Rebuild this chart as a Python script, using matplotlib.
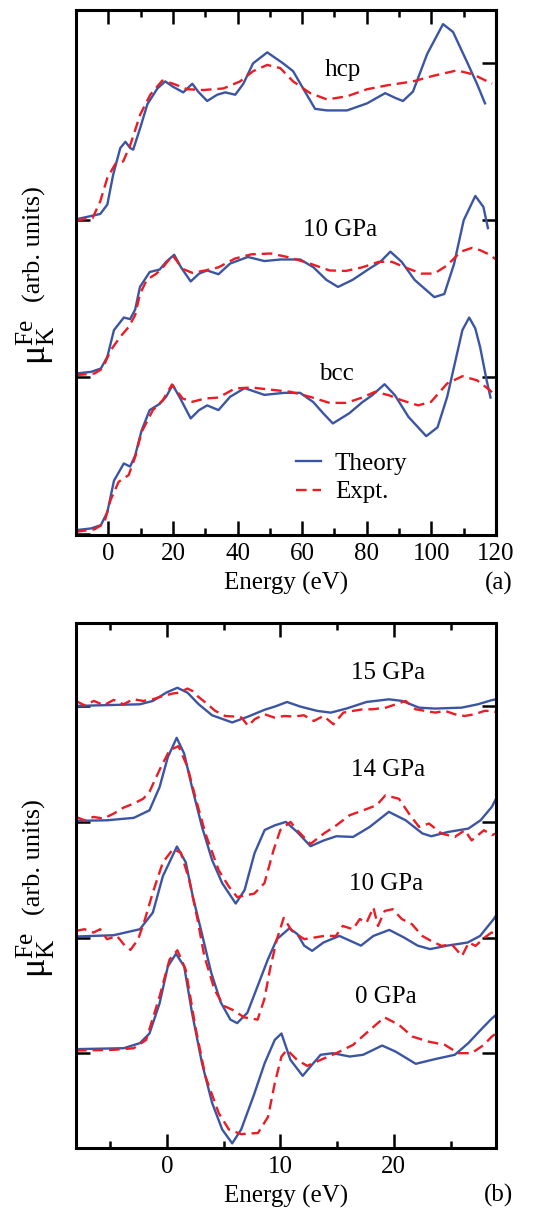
import numpy as np
import matplotlib
matplotlib.use('Agg')
import matplotlib.pyplot as plt
from matplotlib.ticker import MultipleLocator

plt.rcParams['font.family'] = ['Liberation Serif', 'DejaVu Serif']
plt.rcParams['mathtext.fontset'] = 'custom'
plt.rcParams['mathtext.rm'] = 'Liberation Serif'
plt.rcParams['mathtext.it'] = 'Liberation Serif:italic'
plt.rcParams['font.size'] = 18

# ---------------- panel (a): wide energy range ----------------
# hcp (offset 2)
e_hcp_th = [-10, -2.5, -0.3, 1.5, 3.7, 5.3, 6.8, 7.7, 9.9, 12.1, 15.2, 17.6, 20.1, 23.2, 26.0, 27.8,
            30.6, 33.7, 36.2, 39.3, 41.8, 44.8, 49.2, 54.1, 57.2, 60.3, 64.0, 67.7, 73.9, 80.1, 85.7,
            88.8, 91.2, 94.3, 98.7, 103.6, 106.7, 111.0, 114.1, 116.6]
mu_hcp_th = [0.006, 0.04, 0.10, 0.29, 0.46, 0.50, 0.46, 0.45, 0.59, 0.74, 0.84, 0.885, 0.85, 0.815, 0.87, 0.82,
             0.76, 0.80, 0.815, 0.80, 0.87, 1.0, 1.07, 1.0, 0.95, 0.84, 0.71, 0.70, 0.70, 0.745, 0.81,
             0.78, 0.76, 0.82, 1.06, 1.25, 1.20, 1.01, 0.87, 0.745]
e_hcp_ex = [-10, -4.9, -2.5, -0.3, 2.2, 4.6, 6.8, 9.9, 13.0, 16.7, 20.1, 24.4, 29.4, 35.6, 40.8, 44.8,
            49.2, 53.2, 57.2, 62.5, 67.7, 73.9, 80.1, 86.3, 94.3, 100.5, 107.9, 112.9, 118.8]
mu_hcp_ex = [0.0, 0.013, 0.12, 0.27, 0.36, 0.375, 0.48, 0.675, 0.80, 0.89, 0.87, 0.835, 0.83, 0.84, 0.885, 0.95,
             0.99, 0.97, 0.885, 0.81, 0.77, 0.79, 0.835, 0.86, 0.885, 0.92, 0.955, 0.93, 0.87]

# 10 GPa (offset 1)
e_10a_th = [-10, -5.3, -2.3, -0.3, 1.75, 4.8, 6.75, 8.3, 9.8, 12.8, 15.9, 17.9, 20.4, 22.5, 25.5, 28.1,
            30.6, 34.1, 37.7, 43.2, 48.3, 53.4, 59.4, 63.5, 67.5, 71.1, 75.6, 80.7, 84.2, 87.3, 90.8,
            94.8, 100.9, 104.0, 107.0, 110.0, 113.6, 116.1, 117.5]
mu_10a_th = [0.023, 0.034, 0.055, 0.13, 0.30, 0.38, 0.37, 0.43, 0.575, 0.67, 0.686, 0.735, 0.78, 0.70, 0.61, 0.66,
             0.68, 0.656, 0.724, 0.766, 0.74, 0.75, 0.75, 0.70, 0.62, 0.575, 0.62, 0.69, 0.735, 0.80, 0.735,
             0.62, 0.51, 0.53, 0.72, 1.0, 1.155, 1.085, 0.95]
e_10a_ex = [-10, -4.3, -1.8, 0.7, 3.7, 6.3, 8.3, 9.8, 11.9, 14.9, 16.9, 19.9, 23.0, 26.0, 30.0, 34.1,
            39.2, 44.3, 50.3, 56.3, 62.4, 68.5, 73.6, 78.6, 83.7, 87.8, 91.8, 96.9, 100.9, 104.9, 109.1,
            112.6, 115.0, 118.1, 120.0]
mu_10a_ex = [0.013, 0.023, 0.055, 0.17, 0.257, 0.32, 0.395, 0.53, 0.62, 0.66, 0.70, 0.777, 0.69, 0.665, 0.68, 0.70,
             0.756, 0.783, 0.788, 0.762, 0.724, 0.68, 0.677, 0.70, 0.735, 0.735, 0.70, 0.66, 0.66, 0.713, 0.80,
             0.824, 0.81, 0.78, 0.75]

# bcc (offset 0)
e_bcc_th = [-10, -5.3, -2.3, -0.3, 1.75, 4.8, 6.75, 8.3, 10.3, 12.8, 15.9, 17.9, 19.9, 22.0, 25.5, 28.1,
            30.6, 34.1, 37.7, 42.2, 48.3, 54.4, 59.4, 63.5, 66.5, 69.5, 74.6, 78.6, 81.7, 85.5, 88.7,
            92.9, 98.4, 101.9, 104.9, 107.5, 109.6, 111.7, 113.6, 115.1, 117.1, 118.3]
mu_bcc_th = [0.025, 0.036, 0.057, 0.14, 0.34, 0.45, 0.43, 0.50, 0.66, 0.79, 0.83, 0.875, 0.95, 0.875, 0.737, 0.79,
             0.82, 0.79, 0.875, 0.93, 0.887, 0.90, 0.90, 0.84, 0.77, 0.705, 0.77, 0.84, 0.885, 0.955, 0.885,
             0.747, 0.624, 0.68, 0.875, 1.11, 1.30, 1.38, 1.31, 1.19, 0.98, 0.87]
e_bcc_ex = [-10, -4.3, -1.3, 0.7, 3.2, 6.3, 8.3, 10.3, 13.8, 16.9, 19.7, 23.0, 26.0, 30.0, 34.1, 39.2,
            44.3, 50.3, 56.3, 62.4, 68.5, 73.6, 78.6, 82.6, 86.8, 90.8, 95.9, 99.9, 104.9, 109.6, 114.1,
            118.1, 120.0]
mu_bcc_ex = [0.015, 0.03, 0.068, 0.217, 0.333, 0.376, 0.49, 0.65, 0.79, 0.854, 0.953, 0.864, 0.843, 0.864, 0.87, 0.928,
             0.934, 0.92, 0.907, 0.875, 0.836, 0.836, 0.87, 0.907, 0.885, 0.853, 0.82, 0.843, 0.96, 1.006, 0.98,
             0.917, 0.88]

# ---------------- panel (b): near-edge region ----------------
e_15_th = [-8.0, -2.37, -1.23, -0.05, 0.93, 1.82, 2.81, 3.99, 5.76, 7.14, 8.62, 9.51, 10.59, 11.77, 13.25,
           14.44, 15.82, 17.59, 19.56, 20.74, 22.22, 23.6, 25.97, 27.4, 28.6, 29.0]
mu_15_th = [0.003, 0.017, 0.046, 0.118, 0.16, 0.118, 0.017, -0.078, -0.14, -0.09, -0.03, -0.003, 0.037, -0.003, -0.04,
            -0.055, -0.02, 0.037, 0.06, 0.046, -0.012, -0.02, -0.012, 0.017, 0.052, 0.06]
e_15_ex = [-8.0, -7.28, -6.42, -5.55, -4.68, -3.82, -2.95, -2.08, -1.21, -0.35, 0.52, 1.10, 1.82, 2.25, 2.69,
           3.41, 4.27, 5.14, 6.01, 6.59, 7.16, 7.74, 8.61, 9.48, 10.35, 11.21, 12.08, 12.95, 13.81, 14.68,
           15.55, 16.42, 17.28, 18.15, 19.3, 20.17, 21.04, 21.91, 22.77, 23.64, 24.51, 25.37, 26.24, 27.11,
           27.98, 28.53, 29.0]
mu_15_ex = [0.046, 0.009, 0.046, 0.009, 0.055, 0.017, 0.061, 0.046, 0.061, 0.089, 0.110, 0.118, 0.153, 0.133, 0.089,
            0.032, -0.040, -0.084, -0.089, -0.098, -0.170, -0.112, -0.069, -0.098, -0.084, -0.089, -0.078, -0.127,
            -0.084, -0.156, -0.055, -0.040, -0.026, -0.026, -0.012, 0.017, 0.046, -0.026, -0.040, -0.055, -0.040,
            -0.069, -0.084, -0.069, -0.040, -0.040, -0.05]

e_14_th = [-8.0, -5.27, -2.91, -1.53, -0.64, 0.09, 0.87, 1.53, 2.22, 3.1, 3.99, 4.88, 6.07, 6.85, 7.73,
           8.62, 9.51, 10.49, 11.48, 12.66, 13.84, 14.93, 16.41, 17.88, 19.56, 21.04, 22.52, 23.3, 24.78,
           26.56, 27.64, 28.63, 29.0]
mu_14_th = [0.009, 0.014, 0.035, 0.10, 0.30, 0.56, 0.727, 0.59, 0.30, -0.043, -0.33, -0.53, -0.706, -0.59, -0.27,
            -0.07, -0.03, 0.0, -0.087, -0.21, -0.16, -0.124, -0.13, -0.043, 0.087, 0.014, -0.10, -0.124, -0.087,
            -0.058, 0.014, 0.13, 0.2]
e_14_ex = [-8.0, -7.25, -6.46, -5.57, -4.68, -3.8, -2.91, -2.08, -1.53, -0.64, 0.24, 1.03, 1.82, 2.51, 3.4,
           4.58, 5.47, 6.2, 7.7, 8.6, 9.4, 10.0, 10.9, 11.48, 12.66, 13.84, 14.93, 16.11, 17.29, 18.48,
           19.26, 20.45, 21.33, 22.22, 23.1, 24.19, 25.37, 26.26, 26.85, 27.94, 28.63, 29.0]
mu_14_ex = [0.043, 0.014, 0.043, 0.029, 0.072, 0.124, 0.159, 0.20, 0.26, 0.45, 0.62, 0.655, 0.476, 0.216, -0.10,
            -0.42, -0.56, -0.65, -0.62, -0.53, -0.245, -0.07, 0.0, -0.072, -0.19, -0.10, -0.03, 0.058, 0.10, 0.144,
            0.23, 0.20, 0.072, -0.043, -0.014, -0.10, -0.13, -0.072, -0.16, -0.072, -0.115, -0.10]

e_10b_th = [-8.0, -4.68, -2.37, -1.23, -0.35, 0.89, 1.67, 2.3, 3.0, 3.9, 4.75, 5.6, 6.2, 7.1, 8.0, 8.9,
            9.7, 10.8, 11.5, 12.1, 12.8, 13.8, 15.2, 16.2, 17.1, 18.2, 19.6, 20.9, 22.1, 23.2, 24.7, 26.5,
            27.6, 28.8, 29.0]
mu_10b_th = [0.009, 0.02, 0.072, 0.216, 0.53, 0.787, 0.65, 0.35, 0.07, -0.30, -0.56, -0.71, -0.74, -0.65, -0.42, -0.19,
             -0.014, 0.08, 0.03, -0.07, -0.115, -0.043, 0.014, -0.03, -0.07, 0.014, 0.066, 0.0, -0.07, -0.10, -0.07,
             -0.043, 0.014, 0.16, 0.19]
e_10b_ex = [-8.0, -7.25, -6.46, -5.87, -5.27, -4.39, -3.8, -3.2, -2.52, -1.92, -1.23, -0.35, 0.54, 1.23, 1.97,
            2.7, 3.3, 4.2, 5.0, 5.9, 6.8, 8.0, 8.6, 9.1, 9.7, 10.3, 11.0, 12.1, 13.0, 13.85, 14.9, 15.5,
            16.4, 17.0, 17.6, 18.2, 18.6, 19.2, 19.9, 20.7, 21.6, 22.5, 23.3, 24.2, 25.1, 26.0, 26.6, 27.2,
            28.0, 28.6, 29.0]
mu_10b_ex = [0.058, 0.072, 0.043, 0.072, -0.014, 0.014, -0.058, -0.107, -0.014, 0.16, 0.39, 0.65, 0.764, 0.735, 0.50,
             0.16, -0.16, -0.45, -0.59, -0.63, -0.69, -0.71, -0.53, -0.27, -0.014, 0.17, 0.06, -0.014, 0.0, 0.014,
             0.014, 0.10, 0.072, 0.16, 0.13, 0.26, 0.10, 0.23, 0.245, 0.16, 0.115, 0.014, -0.03, -0.072, -0.058,
             -0.16, -0.043, -0.072, 0.0, 0.043, 0.03]

e_0_th = [-8.0, -3.8, -2.37, -1.53, -0.64, 0.09, 0.81, 1.53, 2.22, 3.1, 3.99, 4.88, 5.76, 6.55, 7.64,
          8.62, 9.51, 10.1, 10.89, 11.97, 12.66, 13.55, 14.63, 16.11, 17.29, 18.97, 20.15, 21.93, 23.6,
          25.37, 26.56, 27.64, 28.63, 29.0]
mu_0_th = [0.035, 0.043, 0.087, 0.17, 0.43, 0.75, 0.86, 0.75, 0.35, -0.087, -0.43, -0.66, -0.78, -0.66, -0.37,
           -0.087, 0.115, 0.17, -0.058, -0.196, -0.115, -0.014, 0.0, -0.029, -0.014, 0.066, 0.014, -0.092, -0.052,
           -0.014, 0.087, 0.20, 0.30, 0.33]
e_0_ex = [-8.0, -4.68, -2.91, -1.82, -0.64, 0.24, 0.93, 1.67, 2.51, 3.4, 4.58, 5.47, 6.55, 8.03, 8.92,
          9.51, 10.1, 10.59, 11.48, 12.37, 13.55, 14.93, 16.41, 17.88, 19.17, 20.45, 21.63, 23.06, 24.49,
          25.67, 26.85, 27.94, 28.63, 29.0]
mu_0_ex = [0.023, 0.029, 0.043, 0.115, 0.49, 0.81, 0.89, 0.72, 0.23, -0.20, -0.52, -0.66, -0.70, -0.69, -0.55,
           -0.26, -0.029, 0.029, -0.058, -0.11, -0.058, 0.0, 0.072, 0.20, 0.31, 0.245, 0.144, 0.10, 0.072,
           0.0, 0.0, 0.072, 0.144, 0.17]

BLUE = '#3b55a4'
RED = '#ec1c24'
W, H = 533, 1209


def draw(ax, e_th, mu_th, e_ex, mu_ex, off, labels=(None, None)):
    ax.plot(e_th, np.array(mu_th) + off, color=BLUE, lw=1.7, solid_joinstyle='round', label=labels[0])
    ax.plot(e_ex, np.array(mu_ex) + off, color=RED, lw=1.7, dashes=(4.5, 2.5), label=labels[1])


def style(ax):
    for s in ax.spines.values():
        s.set_linewidth(2.2)
    ax.tick_params(which='both', direction='in', top=True, width=1.8, pad=6)
    ax.tick_params(which='major', length=10)
    ax.tick_params(which='minor', length=5)
    ax.tick_params(axis='y', labelleft=False)


fig = plt.figure(figsize=(W / 100, H / 100), dpi=100)
ax1 = fig.add_axes([76 / W, 1 - 535 / H, 420 / W, 525 / H])
ax2 = fig.add_axes([76 / W, 1 - 1148 / H, 420 / W, 525 / H])

# panel (a)
draw(ax1, e_bcc_th, mu_bcc_th, e_bcc_ex, mu_bcc_ex, 0, ('Theory', 'Expt.'))
draw(ax1, e_10a_th, mu_10a_th, e_10a_ex, mu_10a_ex, 1)
draw(ax1, e_hcp_th, mu_hcp_th, e_hcp_ex, mu_hcp_ex, 2)
ax1.set_xlim(-10, 120)
ax1.set_ylim(-0.006, 3.34)
ax1.xaxis.set_major_locator(MultipleLocator(20))
ax1.xaxis.set_minor_locator(MultipleLocator(10))
ax1.set_yticks([0, 1, 2])
style(ax1)
sec1 = ax1.secondary_yaxis('right')
sec1.set_yticks([1, 2, 3])
sec1.tick_params(direction='in', length=10, width=1.8, labelright=False)
sec1.spines['right'].set_linewidth(2.2)
ax1.set_xlabel('Energy (eV)', labelpad=5)
ax1.text(72.7, 2.96, 'hcp', ha='center', va='center')
ax1.text(71.8, 1.94, '10 GPa', ha='center', va='center')
ax1.text(70.5, 1.02, 'bcc', ha='center', va='center')
ax1.legend(loc='upper left', bbox_to_anchor=((296 - 76) / 420, (535 - 452) / 525), frameon=False,
           handlelength=1.0, handletextpad=0.55, labelspacing=0.25, borderpad=0, borderaxespad=0)

# panel (b)
draw(ax2, e_0_th, mu_0_th, e_0_ex, mu_0_ex, 0)
draw(ax2, e_10b_th, mu_10b_th, e_10b_ex, mu_10b_ex, 1)
draw(ax2, e_14_th, mu_14_th, e_14_ex, mu_14_ex, 2)
draw(ax2, e_15_th, mu_15_th, e_15_ex, mu_15_ex, 3)
ax2.set_xlim(-8, 29)
ax2.set_ylim(-0.82, 3.72)
ax2.xaxis.set_major_locator(MultipleLocator(10))
ax2.xaxis.set_minor_locator(MultipleLocator(5))
ax2.set_yticks([0, 1, 2, 3])
style(ax2)
ax2.tick_params(axis='y', right=True)
ax2.set_xlabel('Energy (eV)', labelpad=5)
ax2.text(19.5, 3.29, '15 GPa', ha='center', va='center')
ax2.text(19.45, 2.45, '14 GPa', ha='center', va='center')
ax2.text(19.3, 1.46, '10 GPa', ha='center', va='center')
ax2.text(19.3, 0.49, '0 GPa', ha='center', va='center')

# y labels: big mu symbol plus "(arb. units)"
mu_lab = r'$\mathrm{\mu}_\mathrm{K}^\mathrm{Fe}$'
for yc in (272, 885):
    fig.text(36 / W, 1 - (yc + 70) / H, mu_lab, rotation=90, ha='center', va='center', fontsize=26)
    fig.text(34 / W, 1 - (yc - 28) / H, '(arb. units)', rotation=90, ha='center', va='center', fontsize=19)
fig.text(513 / W, 1 - 583 / H, '(a)', ha='right', va='center')
fig.text(513 / W, 1 - 1195 / H, '(b)', ha='right', va='center')

fig.savefig('out.png', dpi=100)
